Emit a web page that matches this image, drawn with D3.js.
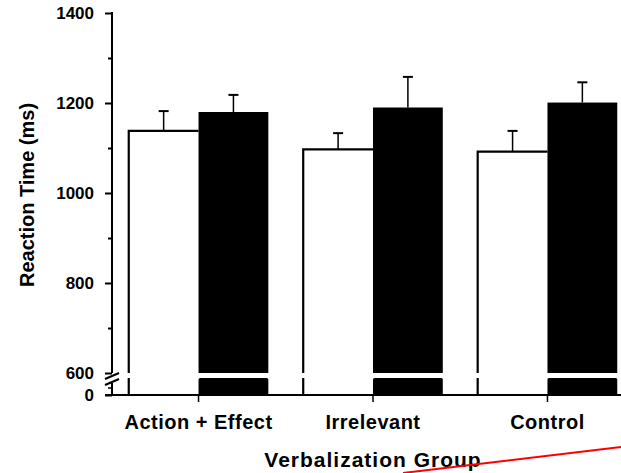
<!doctype html>
<html>
<head>
<meta charset="utf-8">
<script src="https://d3js.org/d3.v7.min.js"></script>
<style>
  body { margin: 0; background: #fff; }
  text { font-family: "Liberation Sans", Arial, sans-serif; font-weight: bold; fill: #000; }
</style>
</head>
<body>
<script>
// data
var groups = ["Action + Effect", "Irrelevant", "Control"];
var series = ["white", "black"];
var whiteMeans = [1138, 1097, 1092];
var whiteErr = [44, 36, 46];
var blackMeans = [1180, 1190, 1201];
var blackErr = [38, 68, 45];
var majorTicks = [600, 800, 1000, 1200, 1400];
var minorTicks = [700, 900, 1100, 1300];

var w = 621, h = 473;
var svg = d3.select("body").append("svg").attr("width", w).attr("height", h);

var axisX = 112, baseY = 395;
var y = d3.scaleLinear().domain([600, 1400]).range([373, 13]);
// lower piece below the break, only 0 is shown
var yLow = d3.scaleLinear().domain([0, 600]).range([baseY, 378]);

var x = d3.scaleBand().domain(groups).range([axisX, 634]).paddingInner(0.2).paddingOuter(0.096);
var xs = d3.scaleBand().domain(series).range([0, x.bandwidth()]);

var rows = groups.map(function(g, i) {
  return [
    { g: g, s: "white", v: whiteMeans[i], e: whiteErr[i] },
    { g: g, s: "black", v: blackMeans[i], e: blackErr[i] }
  ];
}).flat();

// error bars (drawn first, the bar top covers the base)
var eb = svg.append("g").selectAll("g").data(rows).join("g")
  .attr("transform", function(d){ return "translate(" + (x(d.g) + xs(d.s) + xs.bandwidth() / 2) + ",0)"; });
eb.append("line").attr("y1", function(d){ return y(d.v); }).attr("y2", function(d){ return y(d.v + d.e); })
  .attr("stroke", "#000").attr("stroke-width", 1.5);
eb.append("line").attr("x1", -5).attr("x2", 5)
  .attr("y1", function(d){ return y(d.v + d.e); }).attr("y2", function(d){ return y(d.v + d.e); })
  .attr("stroke", "#000").attr("stroke-width", 2);

// bars: upper part above the break
var bars = svg.append("g");
bars.selectAll("rect.up").data(rows).join("rect").attr("class", "up")
  .attr("x", function(d){ return x(d.g) + xs(d.s); })
  .attr("width", xs.bandwidth())
  .attr("y", function(d){ return y(d.v); })
  .attr("height", function(d){ return y(600) - y(d.v); })
  .attr("fill", function(d){ return d.s === "white" ? "#fff" : "#000"; });
// lower part below the break
bars.selectAll("rect.low").data(rows.filter(function(d){ return d.s === "black"; })).join("rect").attr("class", "low")
  .attr("x", function(d){ return x(d.g) + xs(d.s); })
  .attr("width", xs.bandwidth())
  .attr("y", yLow(600))
  .attr("height", yLow(0) - yLow(600))
  .attr("rx", 1.5)
  .attr("fill", "#000");

// white bar outlines (left edge broken at the gap)
var wb = bars.selectAll("path.wo").data(rows.filter(function(d){ return d.s === "white"; })).join("path")
  .attr("class", "wo")
  .attr("fill", "none").attr("stroke", "#000").attr("stroke-width", 2.2)
  .attr("d", function(d){
    var x0 = x(d.g) + xs(d.s), x1 = x0 + xs.bandwidth();
    return "M" + x0 + "," + y(600) + "V" + y(d.v) + "H" + x1 +
           "M" + x0 + "," + yLow(600) + "V" + baseY;
  });

// y axis, upper part
var gy = svg.append("g").attr("transform", "translate(" + axisX + ",0)");
gy.call(d3.axisLeft(y).tickValues(majorTicks).tickSize(7).tickPadding(11).tickFormat(d3.format("d")));
gy.append("g").call(d3.axisLeft(y).tickValues(minorTicks).tickSize(4).tickFormat(""));
gy.selectAll(".domain").remove();
gy.append("line").attr("y1", y(1400) - 1).attr("y2", y(600)).attr("stroke", "#000").attr("stroke-width", 2);
gy.selectAll(".tick line").attr("stroke", "#000").attr("stroke-width", 2);
gy.selectAll("text").style("font-size", "17px").style("font-family", "Liberation Sans, Arial, sans-serif");

// y axis, lower part
var gyl = svg.append("g").attr("transform", "translate(" + axisX + ",0)");
gyl.call(d3.axisLeft(yLow).tickValues([0]).tickSize(7).tickPadding(11));
gyl.selectAll(".domain").remove();
gyl.append("line").attr("y1", 383).attr("y2", baseY).attr("stroke", "#000").attr("stroke-width", 2);
gyl.append("line").attr("x1", -4).attr("x2", 0).attr("y1", 388).attr("y2", 388).attr("stroke", "#000").attr("stroke-width", 1.5);
gyl.selectAll(".tick line").attr("stroke", "#000").attr("stroke-width", 2);
gyl.selectAll("text").style("font-size", "17px").style("font-family", "Liberation Sans, Arial, sans-serif");

// break marks
var brk = svg.append("g").attr("stroke", "#000").attr("stroke-width", 2);
brk.append("line").attr("x1", axisX - 7).attr("x2", axisX + 7).attr("y1", 379).attr("y2", 373);
brk.append("line").attr("x1", axisX - 7).attr("x2", axisX + 7).attr("y1", 385).attr("y2", 379);

// x axis
var gx = svg.append("g").attr("transform", "translate(0," + baseY + ")");
gx.call(d3.axisBottom(x).tickSize(7).tickPadding(13));
gx.select(".domain").remove();
gx.append("line").attr("x1", axisX - 7).attr("x2", w).attr("stroke", "#000").attr("stroke-width", 2);
gx.selectAll(".tick line").attr("stroke", "#000").attr("stroke-width", 1.5);
gx.selectAll("text").style("font-size", "20px").style("letter-spacing", "0.5px")
  .style("font-family", "Liberation Sans, Arial, sans-serif");

// axis titles
svg.append("text").attr("x", x("Irrelevant") + x.bandwidth() / 2).attr("y", 467)
  .attr("text-anchor", "middle").style("font-size", "21px").style("letter-spacing", "1px")
  .text("Verbalization Group");
svg.append("text").attr("transform", "translate(34,195) rotate(-90)")
  .attr("text-anchor", "middle").style("font-size", "20px")
  .text("Reaction Time (ms)");

// red stroke across the bottom right of the figure
svg.append("line").attr("x1", 403).attr("y1", 473).attr("x2", 621).attr("y2", 447)
  .attr("stroke", "#f00").attr("stroke-width", 2);
</script>
</body>
</html>
